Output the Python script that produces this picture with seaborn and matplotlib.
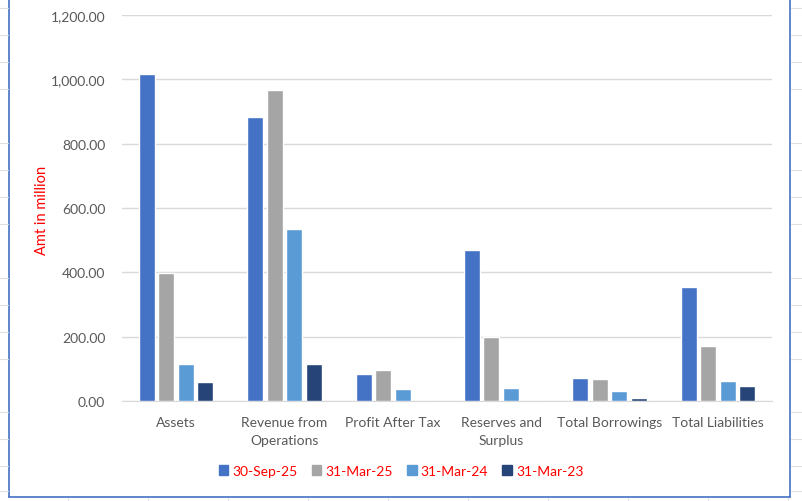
import matplotlib.pyplot as plt
import matplotlib.patches as mpatches
import matplotlib.ticker as mticker
import numpy as np
import pandas as pd
import seaborn as sns

# Data (Amt in million)
categories = ['Assets', 'Revenue from\nOperations', 'Profit After Tax',
              'Reserves and\nSurplus', 'Total Borrowings', 'Total Liabilities']
periods = ['30-Sep-25', '31-Mar-25', '31-Mar-24', '31-Mar-23']
sep25 = [1017, 883, 84, 469, 72, 354]
mar25 = [398, 967, 96, 199, 68, 171]
mar24 = [115, 535, 37, 40, 31, 62]
mar23 = [59, 115, 0, 0, 9, 47]

colors = ['#4472C4', '#A5A5A5', '#5B9BD5', '#264478']

df = pd.DataFrame({'Category': categories * 4,
                   'Period': np.repeat(periods, len(categories)),
                   'Value': sep25 + mar25 + mar24 + mar23})

sns.set_style('white')
plt.rcParams['font.family'] = ['Lato', 'DejaVu Sans']

fig = plt.figure(figsize=(8.02, 5.02), dpi=100)
ax = fig.add_axes([122 / 802, 100 / 502, 650 / 802, 386 / 502])

sns.barplot(data=df, x='Category', y='Value', hue='Period', hue_order=periods,
            palette=colors, width=0.72, gap=0.18, ax=ax, saturation=1,
            legend=False, zorder=3)

ax.set_ylim(0, 1200)
ax.set_xlim(-0.5, 5.5)
ax.yaxis.set_major_locator(mticker.MultipleLocator(200))
ax.yaxis.set_major_formatter(mticker.FuncFormatter(lambda v, p: f'{v:,.2f}'))
ax.grid(axis='y', color='#D9D9D9', linewidth=1, zorder=0)
for s in ['top', 'right', 'left']:
    ax.spines[s].set_visible(False)
ax.spines['bottom'].set_color('#D9D9D9')
ax.tick_params(axis='both', length=0, labelsize=10, colors='#595959')
ax.tick_params(axis='x', pad=11)
ax.tick_params(axis='y', pad=12)
for lbl in ax.get_xticklabels():
    lbl.set_linespacing(1.6)
ax.set_xlabel('')
ax.set_ylabel('')
fig.text(42 / 802, 1 - 210 / 502, 'Amt in million', rotation=90, color='red',
         fontsize=10.5, ha='center', va='center')

handles = [mpatches.Patch(color=c, label=p) for c, p in zip(colors, periods)]
leg = fig.legend(handles=handles, loc='center', bbox_to_anchor=(0.5, 1 - 472 / 502),
                 ncol=4, frameon=False, fontsize=10, handlelength=0.7,
                 handleheight=0.7, handletextpad=0.3, columnspacing=1.0)
for t in leg.get_texts():
    t.set_color('red')

# chart border and surrounding sheet cells
fig.add_artist(plt.Line2D([9 / 802, 9 / 802], [4 / 502, 1], color='#4472C4', lw=1.2))
fig.add_artist(plt.Line2D([790 / 802, 790 / 802], [4 / 502, 1], color='#4472C4', lw=1.2))
fig.add_artist(plt.Line2D([9 / 802, 790 / 802], [4 / 502, 4 / 502], color='#4472C4', lw=1.2))
for yy in [10, 35, 62, 89, 142, 169, 196, 223, 277, 304, 331, 358, 412, 439, 466, 493]:
    fig.add_artist(plt.Line2D([0, 8 / 802], [yy / 502, yy / 502], color='#E0E0E0', lw=0.8))
    fig.add_artist(plt.Line2D([791 / 802, 1], [yy / 502, yy / 502], color='#E0E0E0', lw=0.8))
for xx in [68, 148, 228, 308, 388, 468, 548, 628, 708, 788]:
    fig.add_artist(plt.Line2D([xx / 802, xx / 802], [0, 3 / 502], color='#E0E0E0', lw=0.8))

fig.savefig('out.png', dpi=100)
